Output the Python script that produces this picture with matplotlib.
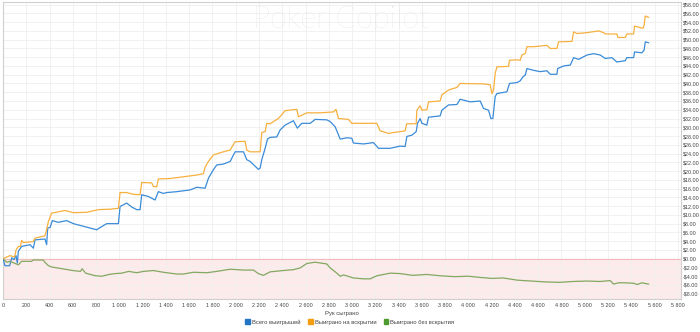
import matplotlib.pyplot as plt
from matplotlib.ticker import FuncFormatter, MultipleLocator

plt.rcParams['font.family'] = ['Liberation Sans', 'DejaVu Sans']

# Выигрыш по раздачам (рук сыграно / доллары)
x_na_vskrytii = [0, 60, 100, 112, 132, 150, 160, 175, 260, 275, 360, 375, 390, 418, 533, 605, 720, 820, 920,
                 992, 1006, 1063, 1121, 1178, 1192, 1278, 1292, 1321, 1335, 1435, 1550, 1665, 1722, 1737, 1766,
                 1808, 1894, 1952, 1995, 2081, 2095, 2124, 2210, 2224, 2253, 2267, 2296, 2324, 2367, 2425, 2525,
                 2539, 2611, 2725, 2840, 2862, 2883, 2969, 2998, 3213, 3241, 3313, 3356, 3413, 3456, 3470, 3551,
                 3557, 3585, 3600, 3643, 3657, 3757, 3772, 3829, 3901, 3929, 4130, 4187, 4202, 4216, 4230, 4245,
                 4345, 4353, 4417, 4445, 4460, 4488, 4503, 4560, 4603, 4675, 4703, 4761, 4775, 4890, 4904, 4933,
                 5019, 5119, 5162, 5176, 5276, 5285, 5348, 5362, 5420, 5428, 5500, 5510, 5520, 5548]
y_na_vskrytii = [0, 0.7, 0.4, 2.0, 2.8, 2.8, 4.2, 3.7, 3.9, 4.7, 5.2, 6.6, 8.5, 10.4, 11.0, 10.5, 10.6, 11.2, 11.3,
                 11.5, 15.1, 15.1, 14.7, 14.6, 17.4, 17.3, 16.5, 16.4, 18.2, 18.3, 18.7, 19.1, 19.4, 20.9, 22.2,
                 23.7, 24.4, 24.8, 26.7, 26.8, 24.8, 24.4, 24.4, 28.8, 29.0, 30.9, 30.8, 31.3, 32.0, 33.8, 34.1,
                 32.4, 33.3, 33.3, 33.5, 34.1, 32.0, 31.8, 30.9, 30.9, 29.2, 28.6, 28.8, 29.0, 29.2, 30.8, 30.8,
                 33.9, 34.9, 33.9, 34.0, 35.8, 36.0, 37.4, 38.5, 39.1, 40.0, 39.9, 39.7, 37.7, 38.5, 42.3, 43.8,
                 43.9, 45.3, 45.4, 45.3, 46.5, 46.8, 48.4, 48.4, 48.5, 48.7, 48.0, 48.0, 49.5, 49.6, 51.8, 51.4,
                 51.6, 52.0, 51.6, 51.3, 51.3, 50.5, 50.5, 51.3, 51.3, 53.1, 52.6, 53.3, 55.4, 55.1]

x_vsego = [0, 17, 57, 75, 95, 112, 123, 132, 160, 232, 261, 275, 361, 375, 384, 404, 424, 475, 547, 605, 691, 805,
           834, 891, 992, 1006, 1063, 1106, 1149, 1178, 1192, 1249, 1307, 1335, 1378, 1407, 1493, 1608, 1665, 1737,
           1766, 1808, 1837, 1894, 1952, 1995, 2067, 2095, 2124, 2195, 2210, 2224, 2253, 2273, 2296, 2353, 2382,
           2425, 2496, 2530, 2568, 2640, 2683, 2783, 2812, 2855, 2898, 2955, 2998, 3012, 3098, 3184, 3227, 3327,
           3413, 3456, 3471, 3514, 3551, 3563, 3585, 3600, 3643, 3657, 3757, 3772, 3829, 3901, 3929, 4015, 4101,
           4130, 4173, 4193, 4210, 4230, 4245, 4331, 4353, 4417, 4445, 4468, 4488, 4503, 4560, 4617, 4675, 4703,
           4761, 4767, 4818, 4876, 4904, 4947, 5019, 5076, 5133, 5176, 5233, 5276, 5348, 5362, 5420, 5428, 5491,
           5510, 5520, 5548]
y_vsego = [0, -1.6, -1.6, 0.2, -0.2, 0.7, -1.0, 1.7, 2.8, 3.2, 2.4, 4.3, 4.5, 3.2, 7.0, 7.1, 8.7, 8.3, 8.7, 8.0,
           7.4, 6.6, 7.1, 8.0, 8.0, 11.9, 12.7, 11.8, 11.2, 11.2, 14.6, 14.2, 13.4, 15.3, 14.9, 15.1, 15.3, 15.7,
           16.3, 16.1, 18.4, 20.3, 21.4, 21.6, 22.2, 24.4, 24.4, 22.6, 22.2, 20.4, 20.7, 22.6, 25.2, 27.3, 27.7,
           27.8, 29.4, 30.5, 31.5, 29.8, 30.9, 30.9, 31.8, 31.7, 31.3, 30.1, 27.3, 27.6, 27.5, 26.4, 26.2, 26.5,
           25.2, 25.2, 25.7, 25.6, 27.9, 28.2, 29.0, 30.9, 32.0, 30.9, 30.5, 32.3, 32.6, 33.9, 35.1, 35.2, 36.4,
           35.8, 36.0, 34.3, 33.9, 32.0, 32.0, 37.0, 37.7, 38.1, 40.0, 40.2, 40.6, 41.5, 41.9, 43.4, 43.0, 42.7,
           42.9, 42.1, 42.1, 43.4, 44.0, 44.2, 45.9, 45.5, 46.5, 46.8, 46.5, 45.7, 45.9, 44.9, 45.2, 45.9, 45.9,
           47.2, 47.0, 47.6, 49.5, 49.3]

x_bez_vskrytiya = [0, 30, 60, 132, 160, 245, 260, 345, 360, 390, 420, 510, 600, 665, 680, 710, 795, 850, 910, 965,
                   1020, 1080, 1150, 1206, 1292, 1378, 1493, 1550, 1636, 1751, 1837, 1952, 2066, 2152, 2195, 2238,
                   2296, 2410, 2496, 2554, 2611, 2683, 2783, 2812, 2869, 2898, 2927, 3012, 3098, 3155, 3213, 3327,
                   3413, 3520, 3640, 3760, 3880, 4000, 4110, 4200, 4300, 4420, 4540, 4660, 4780, 4900, 5020, 5133,
                   5219, 5248, 5290, 5334, 5420, 5450, 5491, 5548]
y_bez_vskrytiya = [0, -0.8, -0.6, -1.4, -0.6, -0.6, -0.3, -0.3, -0.8, -1.6, -1.9, -2.3, -2.7, -2.9, -2.3, -3.3,
                   -3.9, -4.0, -3.6, -3.4, -3.3, -2.9, -3.2, -2.9, -2.7, -3.1, -3.5, -3.5, -3.1, -3.2, -2.9, -2.4,
                   -2.6, -2.6, -3.4, -3.8, -3.0, -2.7, -2.5, -2.1, -1.1, -0.8, -1.2, -2.1, -3.3, -4.0, -3.7, -4.4,
                   -4.6, -4.6, -3.9, -3.3, -3.4, -3.8, -3.6, -3.9, -4.1, -4.0, -4.3, -4.5, -4.4, -4.9, -5.1, -5.3,
                   -5.4, -5.2, -5.1, -5.2, -5.0, -5.8, -5.5, -5.5, -5.6, -5.9, -5.5, -5.8]

nazvaniya = ["Всего выигрышей", "Выиграно на вскрытии", "Выиграно без вскрытия"]
cveta_linij = ["#3a8bd8", "#f7b03f", "#82a862"]
cveta_legendy = ["#1f74c6", "#f59d10", "#4f9a2e"]

fig = plt.figure(figsize=(7, 3.32), dpi=100)
ax = fig.add_axes([0.0043, 0.0994, 0.9687, 0.8946])

ax.set_xlim(0, 5828)
ax.set_ylim(-9.2, 58.6)

# убыточная зона
ax.axhspan(-9.2, 0, color="#fdeaea", zorder=0)
ax.axhline(0, color="#f3bcbc", lw=0.8, zorder=1)

ax.xaxis.set_major_locator(MultipleLocator(200))
ax.yaxis.set_major_locator(MultipleLocator(2))
ax.grid(True, color="#efefef", lw=0.6, zorder=0.5)
ax.set_axisbelow(True)

ax.plot(x_vsego, y_vsego, color=cveta_linij[0], lw=0.9, zorder=3)
ax.plot(x_na_vskrytii, y_na_vskrytii, color=cveta_linij[1], lw=0.9, zorder=3)
ax.plot(x_bez_vskrytiya, y_bez_vskrytiya, color=cveta_linij[2], lw=0.9, zorder=3)

def fmt_x(v, pos):
    return "{:,}".format(int(v)).replace(",", " ")

def fmt_y(v, pos):
    if v < 0:
        return "-${:.2f}".format(-v)
    return "${:.2f}".format(v)

ax.xaxis.set_major_formatter(FuncFormatter(fmt_x))
ax.yaxis.set_major_formatter(FuncFormatter(fmt_y))
ax.yaxis.tick_right()
ax.tick_params(axis="both", length=0, labelsize=3.9, colors="#444444")
ax.tick_params(axis="x", pad=3)
ax.tick_params(axis="y", pad=1.5)

for s in ax.spines.values():
    s.set_color("#d0d0d0")
    s.set_linewidth(0.8)

ax.set_xlabel("Рук сыграно", fontsize=4.3, color="#444444", labelpad=2)

# водяной знак
fig.text(0.487, 0.94, "Poker Copilot", fontsize=22, color="#e3e3e3", ha="center", va="center",
         family="Lato", fontweight="light")

handles = [plt.Rectangle((0, 0), 1, 1, color=c) for c in cveta_legendy]
fig.legend(handles, nazvaniya, loc="center", bbox_to_anchor=(0.5, 0.03), ncol=3, frameon=False,
           fontsize=4.2, handlelength=0.8, handleheight=0.8, handletextpad=0.4, columnspacing=1.2,
           labelcolor="#444444")

fig.savefig("out.png", dpi=100)
